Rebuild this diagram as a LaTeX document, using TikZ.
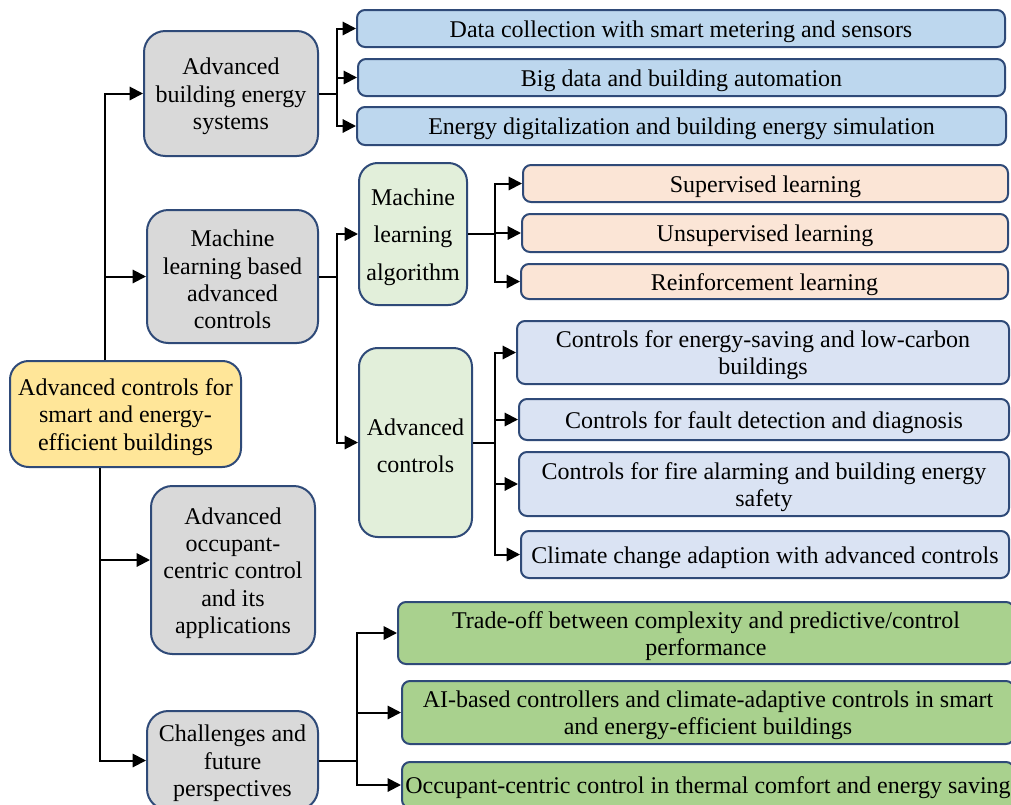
\documentclass[tikz,border=0pt]{standalone}
\usepackage{fontspec}
\setmainfont{Liberation Serif}
\usetikzlibrary{arrows.meta,calc}
\definecolor{edgeblue}{RGB}{47,74,120}
\definecolor{rootfill}{RGB}{255,230,153}
\definecolor{greyfill}{RGB}{217,217,217}
\definecolor{bluefill}{RGB}{189,215,238}
\definecolor{pinkfill}{RGB}{251,229,214}
\definecolor{palegreen}{RGB}{226,239,218}
\definecolor{lavfill}{RGB}{218,227,243}
\definecolor{greenfill}{RGB}{169,209,142}
% box given by its corners: name, style, x1, y1, x2, y2, text
% (a tall invisible rule on the first line sets the text a little lower)
\newcommand\bx[7]{%
  \node[#2, minimum width={(#5-#3)*0.75pt}, minimum height={(#6-#4)*0.75pt}]
    (#1) at ({(#3+#5)/2},{(#4+#6)/2}) {\rule{0pt}{17pt}#7};}
\begin{document}
\begin{tikzpicture}[x=0.75pt,y=-0.75pt,
  base/.style={draw=edgeblue, line width=1.5pt, align=center, inner sep=0pt,
    font=\fontsize{18}{20.5}\selectfont},
  rootbox/.style={base, fill=rootfill, rounded corners=14pt},
  greybox/.style={base, fill=greyfill, rounded corners=16pt},
  midbox/.style={base, fill=palegreen, rounded corners=14pt,
    font=\fontsize{18}{28}\selectfont},
  longbox/.style={base, rounded corners=6pt},
  arr/.style={line width=1.5pt, -{Triangle[length=10pt,width=10pt]}},
  ]
\clip (0,0) rectangle (1011,804);
\fill[white] (0,0) rectangle (1011,804);

% root and first level
\bx{root}{rootbox}{10}{361}{241}{467}{Advanced controls for\\smart and energy-\\efficient buildings}
\bx{A}{greybox}{144}{31}{318}{156}{Advanced\\building energy\\systems}
\bx{B}{greybox}{147}{210}{318}{343}{Machine\\learning based\\advanced\\controls}
\bx{C}{greybox}{151}{486}{315}{654}{Advanced\\occupant-\\centric control\\and its\\applications}
\bx{D}{greybox}{147}{711}{318}{810}{Challenges and\\future\\perspectives}

% building energy systems
\bx{a1}{longbox, fill=bluefill}{357}{10}{1005}{47}{Data collection with smart metering and sensors}
\bx{a2}{longbox, fill=bluefill}{358}{59}{1005}{96}{Big data and building automation}
\bx{a3}{longbox, fill=bluefill}{357}{107}{1006}{145}{Energy digitalization and building energy simulation}

% machine learning branch
\bx{ml}{midbox}{359}{163}{467}{305}{Machine\\learning\\algorithm}
\bx{ac}{midbox}{359}{348}{472}{537}{Advanced\\controls}
\bx{p1}{longbox, fill=pinkfill}{523}{165}{1008}{202}{Supervised learning}
\bx{p2}{longbox, fill=pinkfill}{522}{214}{1008}{252}{Unsupervised learning}
\bx{p3}{longbox, fill=pinkfill}{521}{264}{1008}{299}{Reinforcement learning}

\bx{c1}{longbox, fill=lavfill}{517}{321}{1009}{384}{Controls for energy-saving and low-carbon\\buildings}
\bx{c2}{longbox, fill=lavfill}{519}{399}{1009}{440}{Controls for fault detection and diagnosis}
\bx{c3}{longbox, fill=lavfill}{519}{452}{1009}{516}{Controls for fire alarming and building energy\\safety}
\bx{c4}{longbox, fill=lavfill}{521}{531}{1009}{578}{Climate change adaption with advanced controls}

% challenges
\bx{g1}{longbox, fill=greenfill}{398}{602}{1014}{664}{Trade-off between complexity and predictive/control\\performance}
\bx{g2}{longbox, fill=greenfill}{402}{681}{1014}{744}{AI-based controllers and climate-adaptive controls in smart\\and energy-efficient buildings}
\bx{g3}{longbox, fill=greenfill}{402}{762}{1014}{808}{Occupant-centric control in thermal comfort and energy saving}

% junction columns
\coordinate (tU) at (105,0);
\coordinate (tL) at (100,0);
\coordinate (jA) at (337,0);
\coordinate (jB) at (337,0);
\coordinate (jM) at (495,0);
\coordinate (jC) at (495,0);
\coordinate (jD) at (357,0);

% trunk
\draw[arr] (root.north -| tU) |- (A.west);
\draw[arr] (root.north -| tU) |- (B.west);
\draw[arr] (root.south -| tL) |- ($(C.west)+(0,-10)$);
\draw[arr] (root.south -| tL) |- (D.west);

% branches
\foreach \t in {a1,a2,a3} \draw[arr] (A.east) -- (A.east -| jA) |- (\t.west);
\foreach \t in {ml,ac} \draw[arr] (B.east) -- (B.east -| jB) |- (\t.west);
\foreach \t in {p1,p2,p3} \draw[arr] (ml.east) -- (ml.east -| jM) |- (\t.west);
\foreach \t in {c1,c2,c3,c4} \draw[arr] (ac.east) -- (ac.east -| jC) |- (\t.west);
\foreach \t in {g1,g2,g3} \draw[arr] (D.east) -- (D.east -| jD) |- (\t.west);
\end{tikzpicture}
\end{document}
